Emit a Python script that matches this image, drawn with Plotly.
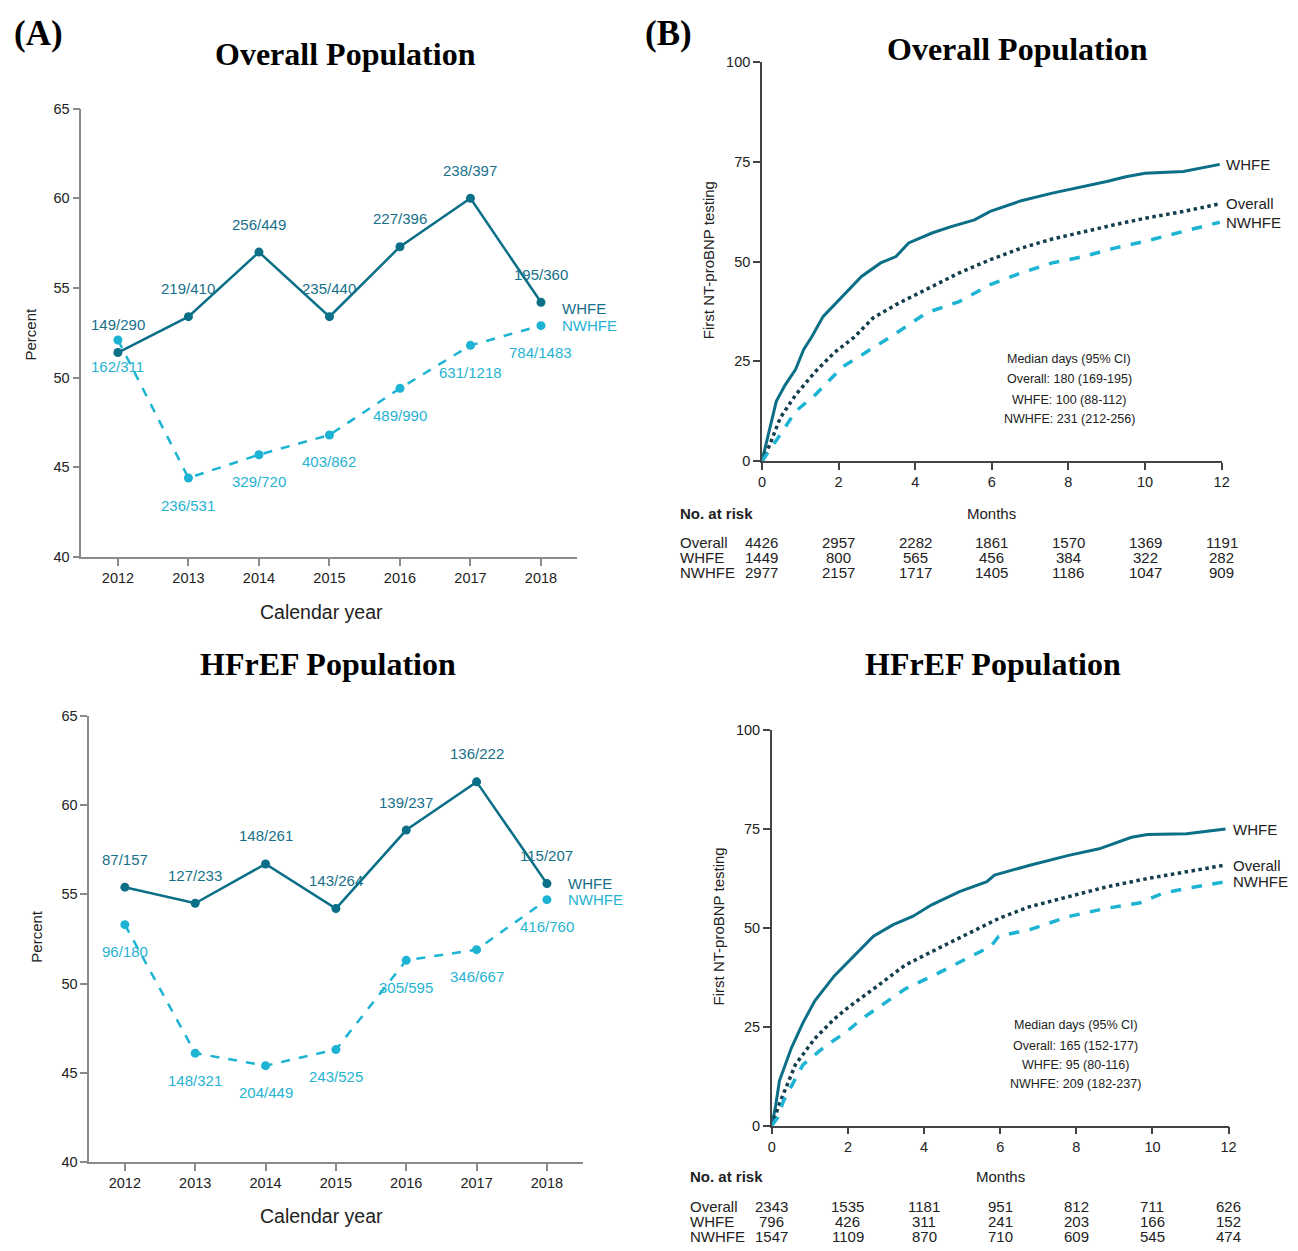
import plotly.graph_objects as go

W, H = 1298, 1251

# ---------------- Data: Panel A (yearly percentages) ----------------
years = [2012, 2013, 2014, 2015, 2016, 2017, 2018]

ov_whfe_pct = [51.4, 53.4, 57.0, 53.4, 57.3, 60.0, 54.2]
ov_whfe_lbl = ["149/290", "219/410", "256/449", "235/440", "227/396", "238/397", "195/360"]
ov_nwhfe_pct = [52.1, 44.4, 45.7, 46.8, 49.4, 51.8, 52.9]
ov_nwhfe_lbl = ["162/311", "236/531", "329/720", "403/862", "489/990", "631/1218", "784/1483"]

hf_whfe_pct = [55.4, 54.5, 56.7, 54.2, 58.6, 61.3, 55.6]
hf_whfe_lbl = ["87/157", "127/233", "148/261", "143/264", "139/237", "136/222", "115/207"]
hf_nwhfe_pct = [53.3, 46.1, 45.4, 46.3, 51.3, 51.9, 54.7]
hf_nwhfe_lbl = ["96/180", "148/321", "204/449", "243/525", "305/595", "346/667", "416/760"]

# ---------------- Data: Panel B (cumulative incidence, months) ----------------
km_ov_whfe_x = [0, 0.1, 0.2, 0.375, 0.6, 0.88, 1.09, 1.29, 1.6, 2.1, 2.6, 3.1, 3.5, 3.83, 4.44, 4.94, 5.55, 5.96, 6.77, 7.58, 8.4, 9.0, 9.5, 10.0, 11.0, 11.95]
km_ov_whfe_y = [0, 4, 8, 15, 19, 23, 28, 31, 36.3, 41.3, 46.3, 49.7, 51.3, 54.7, 57.2, 58.8, 60.5, 62.6, 65.3, 67.2, 68.8, 70.1, 71.3, 72.2, 72.6, 74.4]
km_ov_all_x = [0, 0.2, 0.48, 0.88, 1.39, 1.9, 2.4, 2.9, 3.5, 4.3, 5.15, 5.96, 6.77, 7.58, 8.4, 9.2, 10.0, 11.0, 11.95]
km_ov_all_y = [0, 4, 10.9, 16.6, 22.4, 27.3, 31, 35.9, 39.25, 43, 47.2, 50.5, 53.4, 55.7, 57.6, 59.25, 60.9, 62.6, 64.5]
km_ov_nwhfe_x = [0, 0.15, 0.375, 0.88, 1.39, 2.1, 2.6, 3.4, 4.3, 5.15, 5.96, 6.77, 7.58, 8.4, 9.2, 10.0, 11.0, 11.95]
km_ov_nwhfe_y = [0, 2, 5.2, 12.5, 16.6, 23.6, 26.5, 31.4, 37.2, 40.0, 44.25, 47.2, 49.7, 51.3, 53.4, 55.1, 57.6, 59.9]

km_hf_whfe_x = [0, 0.1, 0.2, 0.51, 0.82, 1.13, 1.64, 2.16, 2.67, 3.19, 3.7, 4.2, 4.93, 5.65, 5.85, 6.78, 7.8, 8.6, 9.45, 9.87, 10.9, 11.92]
km_hf_whfe_y = [0, 5, 11.3, 19.5, 26, 31.5, 37.8, 42.8, 47.8, 50.75, 52.8, 55.75, 59.1, 61.6, 63.25, 65.75, 68.25, 69.9, 72.8, 73.5, 73.7, 74.9]
km_hf_all_x = [0, 0.2, 0.62, 1.13, 1.64, 2.0, 2.67, 3.5, 4.32, 5.34, 5.96, 6.78, 7.8, 8.8, 9.87, 10.9, 11.92]
km_hf_all_y = [0, 5.5, 15.4, 22, 26.9, 29.8, 34.5, 40.5, 44.5, 49.5, 52.3, 55.3, 57.8, 60.3, 62.4, 64.1, 65.8]
km_hf_nwhfe_x = [0, 0.15, 0.31, 0.82, 1.44, 1.95, 2.36, 3.18, 3.5, 4.32, 4.93, 5.76, 5.96, 6.78, 7.8, 8.8, 9.66, 10.28, 10.9, 11.92]
km_hf_nwhfe_y = [0, 2, 6.3, 15.4, 20.3, 23.6, 26.9, 32.2, 34.5, 38.25, 41.2, 45.3, 47.8, 49.5, 52.8, 54.9, 56.2, 58.7, 59.9, 61.6]

risk_months = [0, 2, 4, 6, 8, 10, 12]
risk_groups = ["Overall", "WHFE", "NWHFE"]
risk_ov = [
    ["4426", "2957", "2282", "1861", "1570", "1369", "1191"],
    ["1449", "800", "565", "456", "384", "322", "282"],
    ["2977", "2157", "1717", "1405", "1186", "1047", "909"],
]
risk_hf = [
    ["2343", "1535", "1181", "951", "812", "711", "626"],
    ["796", "426", "311", "241", "203", "166", "152"],
    ["1547", "1109", "870", "710", "609", "545", "474"],
]
median_ov = ["Median days (95% CI)", "Overall: 180 (169-195)", "WHFE: 100 (88-112)", "NWHFE: 231 (212-256)"]
median_hf = ["Median days (95% CI)", "Overall: 165 (152-177)", "WHFE: 95 (80-116)", "NWHFE: 209 (182-237)"]

# ---------------- Styling ----------------
C_WHFE = "#0b6f87"
C_NWHFE = "#1db3d3"
C_OVERALL = "#123e4e"
C_WHFE_TXT = "#17708a"
C_NWHFE_TXT = "#26b3d2"
SANS = "Liberation Sans, Arial, sans-serif"
SERIF = "Liberation Serif, Times New Roman, serif"


def px(x):
    return x / W


def py(y):
    return 1 - y / H


fig = go.Figure()

# axis domain layout (pixels)
dom = {
    "1": dict(x=(78, 578), y=(102, 556)),
    "2": dict(x=(765, 1229), y=(55, 459)),
    "3": dict(x=(86, 584), y=(717, 1169)),
    "4": dict(x=(775, 1236), y=(731, 1132)),
}

line_axis = dict(showline=True, linecolor="#8a8a8a", linewidth=1.5, ticks="outside",
                 ticklen=7, tickcolor="#8a8a8a", tickwidth=1.5, showgrid=False, zeroline=False,
                 tickfont=dict(family=SANS, size=14.5, color="#222"))
km_axis = dict(showline=True, linecolor="#444", linewidth=1.5, ticks="outside",
               ticklen=7, tickcolor="#444", tickwidth=1.5, showgrid=False, zeroline=False,
               tickfont=dict(family=SANS, size=14.5, color="#222"))

layout_axes = {}
for k, d in dom.items():
    xa = "xaxis" if k == "1" else f"xaxis{k}"
    ya = "yaxis" if k == "1" else f"yaxis{k}"
    yname = "y" if k == "1" else f"y{k}"
    xname = "x" if k == "1" else f"x{k}"
    base = line_axis if k in ("1", "3") else km_axis
    layout_axes[xa] = dict(base, domain=[px(d["x"][0]), px(d["x"][1])], anchor=yname)
    layout_axes[ya] = dict(base, domain=[py(d["y"][1]), py(d["y"][0])], anchor=xname)

layout_axes["xaxis"].update(range=[2011.48, 2018.506], tickvals=years)
layout_axes["yaxis"].update(range=[40, 65], tickvals=[40, 45, 50, 55, 60, 65])
layout_axes["xaxis3"].update(range=[2011.493, 2018.507], tickvals=years)
layout_axes["yaxis3"].update(range=[40, 65], tickvals=[40, 45, 50, 55, 60, 65])
for k in ("2", "4"):
    layout_axes[f"xaxis{k}"].update(range=[0, 12], tickvals=risk_months)
    layout_axes[f"yaxis{k}"].update(range=[0, 100], tickvals=[0, 25, 50, 75, 100])

annotations = []


def ann(**kw):
    kw.setdefault("showarrow", False)
    kw.setdefault("xanchor", "center")
    kw.setdefault("yanchor", "middle")
    annotations.append(kw)


# ---------------- Panel A traces ----------------
for xs, ys, col, dash, xr, yr in [
    (years, ov_whfe_pct, C_WHFE, "solid", "x", "y"),
    (years, ov_nwhfe_pct, C_NWHFE, "dash", "x", "y"),
    (years, hf_whfe_pct, C_WHFE, "solid", "x3", "y3"),
    (years, hf_nwhfe_pct, C_NWHFE, "dash", "x3", "y3"),
]:
    fig.add_trace(go.Scatter(x=xs, y=ys, mode="lines+markers", xaxis=xr, yaxis=yr,
                             line=dict(color=col, width=2.5, dash=dash),
                             marker=dict(color=col, size=9), showlegend=False,
                             cliponaxis=False))

for xs, ys, labels, col, shift, xr, yr in [
    (years, ov_whfe_pct, ov_whfe_lbl, C_WHFE_TXT, 28, "x", "y"),
    (years, ov_nwhfe_pct, ov_nwhfe_lbl, C_NWHFE_TXT, -27, "x", "y"),
    (years, hf_whfe_pct, hf_whfe_lbl, C_WHFE_TXT, 28, "x3", "y3"),
    (years, hf_nwhfe_pct, hf_nwhfe_lbl, C_NWHFE_TXT, -27, "x3", "y3"),
]:
    for xv, yv, t in zip(xs, ys, labels):
        ann(x=xv, y=yv, xref=xr, yref=yr, text=t, yshift=shift,
            font=dict(family=SANS, size=15, color=col))

# end labels panel A
for ys, name, col, shift, xr, yr in [
    (ov_whfe_pct, "WHFE", C_WHFE_TXT, -6, "x", "y"),
    (ov_nwhfe_pct, "NWHFE", C_NWHFE_TXT, 0, "x", "y"),
    (hf_whfe_pct, "WHFE", C_WHFE_TXT, 0, "x3", "y3"),
    (hf_nwhfe_pct, "NWHFE", C_NWHFE_TXT, 0, "x3", "y3"),
]:
    ann(x=years[-1], y=ys[-1], xref=xr, yref=yr, text=name, xanchor="left", xshift=19, yshift=shift,
        font=dict(family=SANS, size=15, color=col))

# ---------------- Panel B traces ----------------
for xs, ys, col, dash, width, xr, yr in [
    (km_ov_whfe_x, km_ov_whfe_y, C_WHFE, "solid", 3, "x2", "y2"),
    (km_ov_all_x, km_ov_all_y, C_OVERALL, "dot", 3.5, "x2", "y2"),
    (km_ov_nwhfe_x, km_ov_nwhfe_y, C_NWHFE, "dash", 3.5, "x2", "y2"),
    (km_hf_whfe_x, km_hf_whfe_y, C_WHFE, "solid", 3, "x4", "y4"),
    (km_hf_all_x, km_hf_all_y, C_OVERALL, "dot", 3.5, "x4", "y4"),
    (km_hf_nwhfe_x, km_hf_nwhfe_y, C_NWHFE, "dash", 3.5, "x4", "y4"),
]:
    fig.add_trace(go.Scatter(x=xs, y=ys, mode="lines", xaxis=xr, yaxis=yr,
                             line=dict(color=col, width=width, dash=dash),
                             showlegend=False))

for series, xr, yr in [
    ([(km_ov_whfe_y, "WHFE"), (km_ov_all_y, "Overall"), (km_ov_nwhfe_y, "NWHFE")], "x2", "y2"),
    ([(km_hf_whfe_y, "WHFE"), (km_hf_all_y, "Overall"), (km_hf_nwhfe_y, "NWHFE")], "x4", "y4"),
]:
    for ys, name in series:
        ann(x=12, y=ys[-1], xref=xr, yref=yr, text=name, xanchor="left", xshift=2,
            font=dict(family=SANS, size=15, color="#222"))

# median annotations
for lines, cx, ys0 in [(median_ov, 1075, [356, 376, 397, 416]), (median_hf, 1082, [1030, 1051, 1071, 1090])]:
    for t, yy in zip(lines, ys0):
        ann(x=px(cx), y=py(yy), xref="paper", yref="paper", text=t,
            font=dict(family=SANS, size=12.5, color="#222"))

# risk tables
for table, xr, left, head_y, row_ys in [
    (risk_ov, "x2", 680, 512, [541, 557, 572]),
    (risk_hf, "x4", 690, 1184, [1214, 1229, 1244]),
]:
    ann(x=px(left), y=py(head_y), xref="paper", yref="paper", text="<b>No. at risk</b>",
        xanchor="left", font=dict(family=SANS, size=15, color="#222"))
    ann(x=6, y=py(head_y), xref=xr, yref="paper", text="Months",
        font=dict(family=SANS, size=15, color="#222"))
    for g, row, yy in zip(risk_groups, table, row_ys):
        ann(x=px(left), y=py(yy), xref="paper", yref="paper", text=g,
            xanchor="left", font=dict(family=SANS, size=15, color="#222"))
        for m, v in zip(risk_months, row):
            ann(x=m, y=py(yy), xref=xr, yref="paper", text=v,
                font=dict(family=SANS, size=15, color="#222"))

# axis titles
for t, x0, y0, ang, size in [
    ("Percent", 27, 330, -90, 15),
    ("Percent", 33, 940, -90, 15),
    ("First NT-proBNP testing", 711, 255, -90, 15),
    ("First NT-proBNP testing", 721, 930, -90, 15),
    ("Calendar year", 320, 612, 0, 19.5),
    ("Calendar year", 320, 1224, 0, 19.5),
]:
    ann(x=px(x0), y=py(y0), xref="paper", yref="paper", text=t, textangle=ang,
        font=dict(family=SANS, size=size, color="#222"))

# panel titles
for t, x0, y0, anchor, size in [
    ("<b>Overall Population</b>", 345, 47, "center", 32),
    ("<b>Overall Population</b>", 1023, 42, "center", 32),
    ("<b>HFrEF Population</b>", 327, 664, "center", 32),
    ("<b>HFrEF Population</b>", 998, 664, "center", 32),
    ("<b>(A)</b>", 8, 26, "left", 35),
    ("<b>(B)</b>", 645, 26, "left", 35),
]:
    ann(x=px(x0), y=py(y0), xref="paper", yref="paper", text=t, xanchor=anchor,
        font=dict(family=SERIF, size=size, color="#000"))

fig.update_layout(
    autosize=True, margin=dict(l=0, r=0, t=0, b=0),
    paper_bgcolor="white", plot_bgcolor="white",
    annotations=annotations, showlegend=False,
    **layout_axes,
)

fig.write_html(
    "out.html",
    config={"displayModeBar": False, "responsive": True},
    default_width="100vw",
    default_height="100vh",
    post_script="document.body.style.margin='0';document.body.style.overflow='hidden';",
)
